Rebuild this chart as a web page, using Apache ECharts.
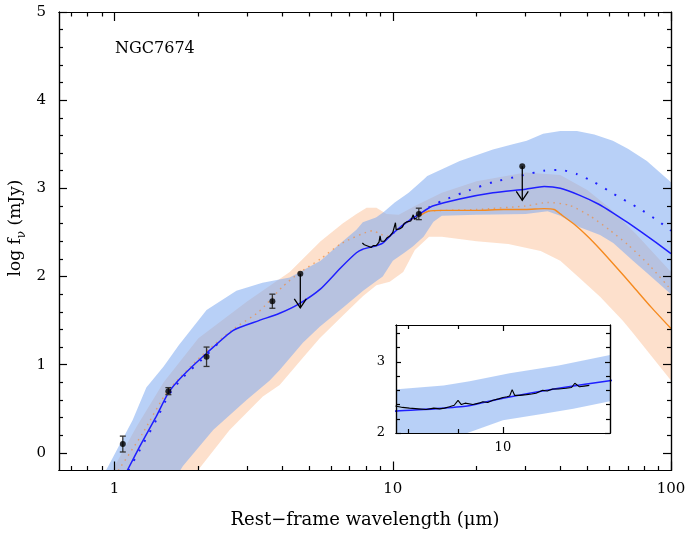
<!DOCTYPE html>
<html><head><meta charset="utf-8">
<script src="https://cdn.jsdelivr.net/npm/echarts@6/dist/echarts.min.js"></script>
<style>html,body{margin:0;padding:0;background:#fff}#c{width:689px;height:533px}</style>
</head><body><div id="c"></div>
<script>
// ---------- tick labels ----------
const xMajorTicks = [1, 10, 100];
const xMinorTicks = [0.7, 0.8, 0.9, 2, 3, 4, 5, 6, 7, 8, 9, 20, 30, 40, 50, 60, 70, 80, 90];
const yMajorTicks = [0, 1, 2, 3, 4, 5];
const yMinorTicks = [0.2, 0.4, 0.6, 0.8, 1.2, 1.4, 1.6, 1.8, 2.2, 2.4, 2.6, 2.8, 3.2, 3.4, 3.6, 3.8, 4.2, 4.4, 4.6, 4.8];
const insetXMajorTicks = [10];
const insetXMinorTicks = [8, 9];
const insetYMajorTicks = [2, 3];
const insetYMinorTicks = [2.2, 2.4, 2.6, 2.8, 3.2, 3.4];

// ---------- model curves (wavelength in micron, log f_nu in mJy) ----------
const blueLam = [1.11, 1.23, 1.41, 1.56, 1.74, 2.14, 2.67, 3.3, 3.9, 4.6, 5.5, 6.5, 7.4, 7.8, 8.5, 9.2, 10, 11.4, 12.9, 13.9, 17.4, 22.9, 30, 35, 40, 47, 55, 62, 70, 77, 88, 100];
const blueVal = [-0.2, 0.07, 0.41, 0.68, 0.86, 1.13, 1.39, 1.50, 1.58, 1.69, 1.86, 2.10, 2.27, 2.31, 2.34, 2.38, 2.49, 2.63, 2.74, 2.80, 2.88, 2.95, 2.99, 3.02, 3.00, 2.92, 2.82, 2.72, 2.61, 2.52, 2.39, 2.26];

// dotted variant: short-wavelength piece, gap, long-wavelength piece
const blueDotLam = [1.12, 1.23, 1.41, 1.56, 1.74, 2.14, 2.4, 3.0, 10, 11.4, 12.9, 15.1, 18.9, 22.9, 28.6, 35, 40, 46, 53, 62, 77, 90, 100];
const blueDotVal = [-0.2, 0.03, 0.37, 0.65, 0.84, 1.11, 1.27, null, 2.49, 2.63, 2.75, 2.86, 2.98, 3.07, 3.14, 3.20, 3.21, 3.16, 3.07, 2.94, 2.77, 2.63, 2.52];

const orangeLam = [12.5, 13.4, 15, 20, 25, 30, 35, 38, 40, 45, 50, 55.6, 63, 73, 85, 100];
const orangeVal = [2.69, 2.74, 2.75, 2.75, 2.76, 2.76, 2.77, 2.76, 2.71, 2.59, 2.46, 2.31, 2.12, 1.89, 1.65, 1.41];

const orangeDotLam = [1.03, 1.26, 1.55, 2.1, 2.66, 3.3, 4.0, 4.6, 5.5, 6.5, 8.5, 9.0, 9.6, 10.5, 11.5, 12.5, 13.4, 20, 30, 36, 43, 51, 60, 70, 84, 100];
const orangeDotVal = [-0.2, 0.22, 0.70, 1.13, 1.40, 1.60, 1.88, 2.04, 2.20, 2.37, 2.52, 2.48, 2.46, 2.55, 2.63, 2.69, 2.74, 2.76, 2.80, 2.84, 2.81, 2.69, 2.53, 2.36, 2.12, 1.85];

// ---------- uncertainty bands ----------
const blueUpLam = [0.93, 0.96, 1.16, 1.30, 1.50, 1.70, 2.14, 2.74, 3.4, 4.26, 5.5, 6.5, 7.4, 7.8, 8.7, 9.25, 10.16, 11.4, 12.9, 13.3, 17.4, 22.9, 27, 30.3, 34.7, 40, 45.9, 53, 61.8, 70, 81.9, 100];
const blueUpVal = [-0.2, -0.12, 0.37, 0.74, 0.98, 1.22, 1.62, 1.84, 1.93, 1.99, 2.18, 2.38, 2.53, 2.615, 2.67, 2.73, 2.84, 2.95, 3.10, 3.14, 3.31, 3.44, 3.50, 3.54, 3.62, 3.65, 3.65, 3.61, 3.54, 3.45, 3.31, 3.07];
const blueLoLam = [1.72, 1.76, 2.26, 2.98, 3.61, 3.92, 4.75, 5.46, 6.63, 7.82, 8.73, 9.2, 10, 11, 11.8, 12.9, 14, 15, 20, 30, 36, 40, 47, 55.6, 62, 73, 82, 100];
const blueLoVal = [-0.2, -0.15, 0.26, 0.60, 0.82, 0.94, 1.25, 1.43, 1.65, 1.84, 1.95, 2.00, 2.18, 2.27, 2.34, 2.45, 2.62, 2.69, 2.70, 2.71, 2.74, 2.69, 2.56, 2.47, 2.38, 2.18, 2.04, 1.80];

const orangeUpLam = [0.98, 1.2, 1.5, 2.0, 3.0, 4.26, 5.5, 6.6, 7.4, 8.05, 8.73, 9.49, 10.5, 12, 15, 20, 30, 40, 50, 60, 75, 100];
const orangeUpVal = [-0.2, 0.3, 0.8, 1.30, 1.72, 2.05, 2.40, 2.60, 2.71, 2.78, 2.78, 2.71, 2.70, 2.80, 2.95, 3.08, 3.18, 3.15, 2.98, 2.78, 2.48, 2.05];
const orangeLoLam = [1.99, 2.59, 3.41, 3.92, 4.75, 5.46, 6.63, 7.82, 8.73, 9.75, 10.9, 12, 13.5, 15, 20, 26, 34, 40, 47, 55.6, 67, 73, 85, 100];
const orangeLoVal = [-0.2, 0.26, 0.64, 0.77, 1.08, 1.30, 1.56, 1.78, 1.90, 1.94, 2.05, 2.30, 2.45, 2.45, 2.40, 2.37, 2.29, 2.18, 1.98, 1.77, 1.50, 1.36, 1.10, 0.82];

// ---------- IRS spectrum ----------
const specLam = [7.77, 7.9, 8.03, 8.2, 8.35, 8.5, 8.62, 8.72, 8.82, 8.92, 9.0, 9.07, 9.15, 9.32, 9.45, 9.54, 9.65, 9.77, 9.9, 10.0, 10.1, 10.16, 10.22, 10.28, 10.4, 10.57, 10.7, 10.81, 10.98, 11.1, 11.24, 11.4, 11.6, 11.75, 11.84, 11.97, 12.1, 12.25];
const specVal = [2.38, 2.36, 2.35, 2.34, 2.33, 2.35, 2.34, 2.35, 2.37, 2.39, 2.46, 2.40, 2.42, 2.40, 2.42, 2.44, 2.43, 2.46, 2.48, 2.50, 2.51, 2.52, 2.61, 2.53, 2.53, 2.54, 2.55, 2.56, 2.60, 2.59, 2.62, 2.62, 2.63, 2.64, 2.70, 2.65, 2.66, 2.67];

// ---------- photometry ----------
const photLam = [1.07, 1.56, 2.14, 3.69, 12.4];
const photVal = [0.10, 0.70, 1.09, 1.72, 2.71];
const photErr = [0.09, 0.04, 0.11, 0.08, 0.065];
const limLam = [4.65, 29.2];
const limVal = [2.03, 3.25];

// ---------- build ----------
const lg = v => Math.log10(v);
const FONT = '"DejaVu Serif", "Liberation Serif", serif';
const BLK = { color: '#000', width: 1.2 };

function axis(gridIndex, pos, min, max, ticks, len, labels, z, labelOpt) {
  return {
    gridIndex, type: 'value', position: pos, min, max, z,
    axisLine: { show: true, onZero: false, lineStyle: BLK },
    axisTick: { show: true, inside: true, length: len, customValues: ticks, lineStyle: BLK },
    axisLabel: labels ? Object.assign({ show: true, customValues: ticks, color: '#000', fontFamily: FONT }, labelOpt) : { show: false },
    splitLine: { show: false }, minorTick: { show: false }
  };
}
const fmtX = v => String(Math.round(Math.pow(10, v)));
const fmtY = v => String(Math.round(v));
const IX0 = lg(7.78), IX1 = lg(12.86);

const xAxes = [
  axis(0, 'bottom', -0.2, 2, xMajorTicks.map(lg), 9, true, 5, { formatter: fmtX, fontSize: 15, margin: 11 }),
  axis(0, 'bottom', -0.2, 2, xMinorTicks.map(lg), 4.5, false, 5),
  axis(0, 'top', -0.2, 2, xMajorTicks.map(lg), 9, false, 5),
  axis(0, 'top', -0.2, 2, xMinorTicks.map(lg), 4.5, false, 5),
  axis(1, 'bottom', IX0, IX1, insetXMajorTicks.map(lg), 6, true, 20, { formatter: fmtX, fontSize: 13, margin: 8 }),
  axis(1, 'bottom', IX0, IX1, insetXMinorTicks.map(lg), 4, false, 20),
  axis(1, 'top', IX0, IX1, insetXMajorTicks.map(lg), 6, false, 20),
  axis(1, 'top', IX0, IX1, insetXMinorTicks.map(lg), 4, false, 20)
];
const yAxes = [
  axis(0, 'left', -0.2, 5, yMajorTicks, 8, true, 5, { formatter: fmtY, fontSize: 15, margin: 13 }),
  axis(0, 'left', -0.2, 5, yMinorTicks, 4, false, 5),
  axis(0, 'right', -0.2, 5, yMajorTicks, 8, false, 5),
  axis(0, 'right', -0.2, 5, yMinorTicks, 4, false, 5),
  axis(1, 'left', 2, 3.52, insetYMajorTicks, 5, true, 20, { formatter: fmtY, fontSize: 13, margin: 11 }),
  axis(1, 'left', 2, 3.52, insetYMinorTicks, 4, false, 20),
  axis(1, 'right', 2, 3.52, insetYMajorTicks, 5, false, 20),
  axis(1, 'right', 2, 3.52, insetYMinorTicks, 4, false, 20)
];

function band(upLam, upVal, loLam, loVal, fill, ai, z) {
  return {
    type: 'custom', xAxisIndex: ai, yAxisIndex: ai, z, clip: true, silent: true,
    data: [[1, 2.5]],
    renderItem: (params, api) => {
      const poly = [];
      upLam.forEach((l, i) => poly.push(api.coord([lg(l), upVal[i]])));
      for (let i = loLam.length - 1; i >= 0; i--) poly.push(api.coord([lg(loLam[i]), loVal[i]]));
      return { type: 'polygon', shape: { points: poly }, style: { fill } };
    }
  };
}
function line(lam, val, color, width, type, ai, z, smooth) {
  return {
    type: 'line', xAxisIndex: ai, yAxisIndex: ai, z,
    data: lam.map((l, i) => [lg(l), val[i] === null ? '-' : val[i]]),
    showSymbol: false, silent: true, connectNulls: false,
    clip: true, smooth: smooth,
    lineStyle: { color, width, type }
  };
}

const BLUE_FILL = 'rgba(125,170,240,0.55)';
const ORANGE_FILL = 'rgba(250,170,115,0.36)';
const BLUE = '#1f1fff';
const ORANGE = '#f58a1f';

const series = [
  band(orangeUpLam, orangeUpVal, orangeLoLam, orangeLoVal, ORANGE_FILL, 0, 1),
  band(blueUpLam, blueUpVal, blueLoLam, blueLoVal, BLUE_FILL, 0, 1),
  line(orangeDotLam, orangeDotVal, 'rgba(240,140,60,0.7)', 1.4, [1.5, 4.5], 0, 2, 0.2),
  line(blueDotLam, blueDotVal, BLUE, 2, [2, 9], 0, 2, 0.2),
  line(orangeLam, orangeVal, ORANGE, 1.4, 'solid', 0, 3, 0.2),
  line(blueLam, blueVal, BLUE, 1.5, 'solid', 0, 3, 0.2),
  line(specLam, specVal, '#000', 1.2, 'solid', 0, 4, false),
  {
    type: 'custom', xAxisIndex: 0, yAxisIndex: 0, z: 4, silent: true,
    data: photLam.map((l, i) => [lg(l), photVal[i], photErr[i]]),
    renderItem: (params, api) => {
      const x = api.value(0), y = api.value(1), e = api.value(2);
      const t = api.coord([x, y + e]), b = api.coord([x, y - e]);
      const w = 3, st = { stroke: '#333', lineWidth: 1.3 };
      return { type: 'group', children: [
        { type: 'line', shape: { x1: t[0], y1: t[1], x2: b[0], y2: b[1] }, style: st },
        { type: 'line', shape: { x1: t[0] - w, y1: t[1], x2: t[0] + w, y2: t[1] }, style: st },
        { type: 'line', shape: { x1: b[0] - w, y1: b[1], x2: b[0] + w, y2: b[1] }, style: st }
      ] };
    }
  },
  {
    type: 'custom', xAxisIndex: 0, yAxisIndex: 0, z: 4, silent: true,
    data: limLam.map((l, i) => [lg(l), limVal[i]]),
    renderItem: (params, api) => {
      const p = api.coord([api.value(0), api.value(1)]);
      const tip = p[1] + 34, st = { stroke: '#000', lineWidth: 1.3, fill: 'none' };
      return { type: 'group', children: [
        { type: 'line', shape: { x1: p[0], y1: p[1], x2: p[0], y2: tip }, style: st },
        { type: 'polyline', shape: { points: [[p[0] - 6, tip - 9], [p[0], tip], [p[0] + 6, tip - 9]] }, style: st }
      ] };
    }
  },
  {
    type: 'scatter', xAxisIndex: 0, yAxisIndex: 0, z: 5, silent: true, symbolSize: 6,
    itemStyle: { color: '#000' },
    data: photLam.map((l, i) => [lg(l), photVal[i]]).concat(limLam.map((l, i) => [lg(l), limVal[i]]))
  },
  // inset
  band(blueUpLam, blueUpVal, blueLoLam, blueLoVal, BLUE_FILL, 4, 12),
  line(blueLam, blueVal, BLUE, 1.6, 'solid', 4, 13, 0.2),
  line(specLam, specVal, '#000', 1.1, 'solid', 4, 14, false)
];

const chart = echarts.init(document.getElementById('c'), null, { renderer: 'canvas' });
chart.setOption({
  animation: false,
  backgroundColor: '#fff',
  grid: [
    { left: 59, top: 12, width: 612, height: 458.5, show: false },
    { left: 396, top: 325, width: 214, height: 108, show: true, backgroundColor: '#fff', borderWidth: 0, z: 10 }
  ],
  xAxis: xAxes,
  yAxis: yAxes,
  series,
  graphic: [
    { type: 'text', left: 115, top: 41, style: { text: 'NGC7674', font: '16px ' + FONT, fill: '#000' } },
    { type: 'text', x: 365, y: 520, style: { text: 'Rest\u2212frame wavelength (\u03bcm)', font: '18px ' + FONT, fill: '#000', align: 'center', verticalAlign: 'middle' } },
    { type: 'text', x: 16, y: 228, rotation: Math.PI / 2,
      style: { text: '{n|log f}{s|\u03bd}{n| (mJy)}', fill: '#000', align: 'center', verticalAlign: 'middle',
        rich: { n: { fontSize: 17, fontFamily: FONT, lineHeight: 24, verticalAlign: 'middle' },
                s: { fontSize: 12, fontFamily: FONT, verticalAlign: 'bottom', padding: [8, 0, 0, 0] } } } }
  ]
});
</script></body></html>
